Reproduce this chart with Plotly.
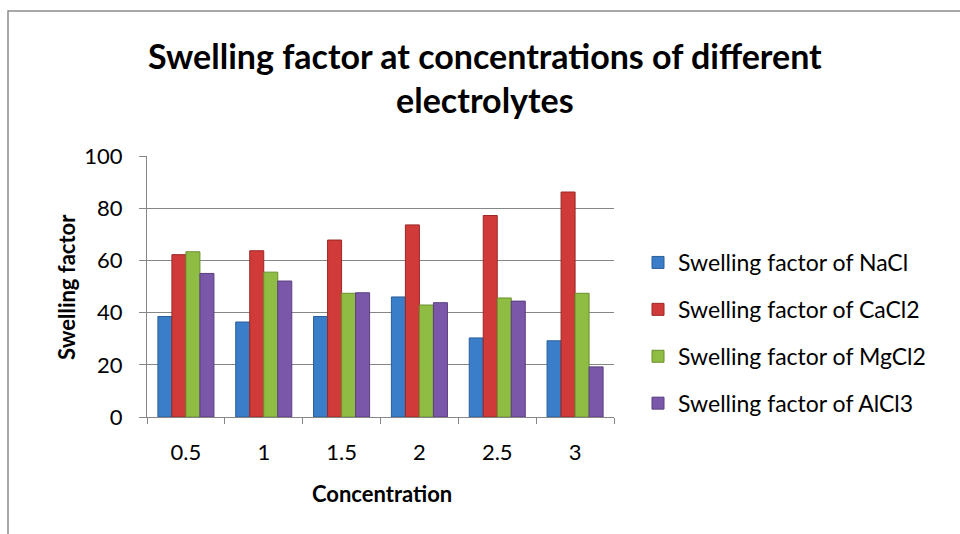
import plotly.graph_objects as go

categories = ["0.5", "1", "1.5", "2", "2.5", "3"]
nacl = [38.5, 36.4, 38.5, 46.0, 30.3, 29.2]
cacl2 = [62.2, 63.7, 67.8, 73.6, 77.2, 86.2]
mgcl2 = [63.3, 55.5, 47.4, 42.9, 45.6, 47.4]
alcl3 = [55.0, 52.1, 47.6, 43.8, 44.4, 19.2]
series_names = ["Swelling factor of NaCl", "Swelling factor of CaCl2",
                "Swelling factor of MgCl2", "Swelling factor of AlCl3"]
y_ticks = [0, 20, 40, 60, 80, 100]

colors = ["#3a7dc8", "#d03b39", "#8fbd43", "#7b57a9"]
edges = ["#2b5e99", "#9a2826", "#6a8f2f", "#5a3f80"]

# plot area in pixels
L, R, T, B = 147, 614, 156, 417
W, H = R - L, B - T
FW, FH = 960, 534


def px(x):
    return (x - L) / W


def py(y):
    return (B - y) / H


fig = go.Figure()
for i, (name, vals) in enumerate(zip(series_names, [nacl, cacl2, mgcl2, alcl3])):
    fig.add_trace(go.Bar(
        x=categories, y=vals, name=name, legendgroup=f"g{i}",
        marker=dict(color=colors[i], line=dict(color=edges[i], width=1)),
    ))

font_family = "Lato, 'Open Sans', sans-serif"

fig.update_layout(
    width=FW, height=FH,
    margin=dict(l=L, r=FW - R, t=T, b=FH - B),
    paper_bgcolor="white", plot_bgcolor="white",
    barmode="group", bargap=0.28, bargroupgap=0,
    font=dict(family=font_family, size=22, color="black"),
    xaxis=dict(
        type="category", showline=True, linecolor="#868686", linewidth=1,
        ticks="outside", tickson="boundaries", ticklen=6, tickcolor="#868686",
        tickfont=dict(size=22), ticklabelstandoff=16, showgrid=False,
    ),
    yaxis=dict(
        range=[0, 100], tickvals=y_ticks, showline=True, linecolor="#868686",
        linewidth=1, ticks="outside", ticklen=7, tickcolor="#868686",
        showgrid=True, gridcolor="#868686", gridwidth=1,
        tickfont=dict(size=22), ticklabelstandoff=12, zeroline=False,
    ),
    legend=dict(
        x=px(638), xanchor="left", y=py(241), yanchor="top",
        font=dict(size=23), traceorder="grouped", tracegroupgap=14,
        bgcolor="rgba(0,0,0,0)",
    ),
    showlegend=True,
)

fig.add_annotation(text="<b>Swelling factor at concentrations of different<br>electrolytes</b>",
                   x=px(485), y=py(78), xref="paper", yref="paper", showarrow=False,
                   font=dict(size=34), xanchor="center", yanchor="middle", align="center")
fig.add_annotation(text="<b>Concentration</b>", x=px(382), y=py(493),
                   xref="paper", yref="paper", showarrow=False,
                   font=dict(size=22), xanchor="center", yanchor="middle")
fig.add_annotation(text="<b>Swelling factor</b>", x=px(66), y=py(287),
                   xref="paper", yref="paper", showarrow=False, textangle=-90,
                   font=dict(size=22), xanchor="center", yanchor="middle")

fig.add_shape(type="rect", xref="paper", yref="paper",
              x0=px(8), x1=px(1000), y0=py(600), y1=py(11),
              line=dict(color="#8c8c8c", width=1.5), layer="below")

fig.write_html("out.html")
